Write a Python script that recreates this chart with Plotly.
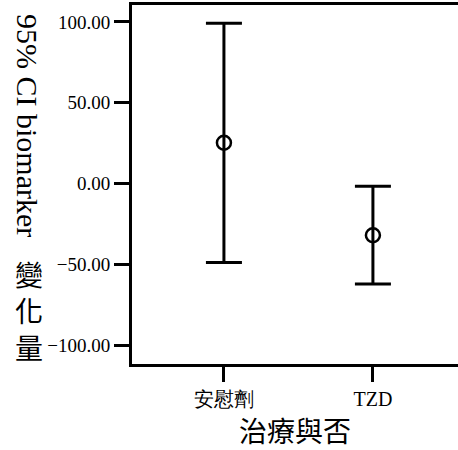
import plotly.graph_objects as go

# Data
categories = ["安慰劑", "TZD"]
means = [25.3, -31.9]
ci_lower = [-48.8, -62.0]
ci_upper = [99.2, -1.6]
y_ticks = [-100, -50, 0, 50, 100]

err_plus = [u - m for u, m in zip(ci_upper, means)]
err_minus = [m - l for m, l in zip(means, ci_lower)]

FONT = "Times New Roman, Liberation Serif, serif"

fig = go.Figure()
fig.add_trace(go.Scatter(
    x=categories,
    y=means,
    mode="markers",
    marker=dict(symbol="circle-open", size=14, color="black",
                line=dict(width=2.5, color="black")),
    error_y=dict(type="data", symmetric=False, array=err_plus,
                 arrayminus=err_minus, thickness=3, width=18, color="black"),
    showlegend=False,
    hoverinfo="skip",
))

W, H = 458, 450
L, R, T, B = 132, 0, 5, 86
plot_w = W - L - R
plot_h = H - T - B

def px_x(x):
    return (x - L) / plot_w

def px_y(y):
    return (H - B - y) / plot_h

fig.update_layout(
    width=W, height=H,
    margin=dict(l=L, r=R, t=T, b=B, pad=0),
    paper_bgcolor="white", plot_bgcolor="white",
    font=dict(family=FONT, color="black", size=19),
    xaxis=dict(
        type="category",
        range=[-0.617, 1.571],
        showline=True, linewidth=3, linecolor="black", mirror=True,
        ticks="outside", ticklen=15, tickwidth=3, tickcolor="black",
        showgrid=False, zeroline=False,
        tickfont=dict(family=FONT, size=20, color="black", weight="normal"),
    ),
    yaxis=dict(
        range=[-111.5, 110.5],
        tickvals=y_ticks,
        tickformat=".2f",
        showline=True, linewidth=3, linecolor="black", mirror=False,
        ticks="outside", ticklen=15, tickwidth=3, tickcolor="black",
        showgrid=False, zeroline=False,
        tickfont=dict(family=FONT, size=19, color="black", weight="normal"),
    ),
    annotations=[
        dict(text="95% CI biomarker", textangle=90,
             xref="paper", yref="paper", x=px_x(27), y=px_y(125),
             xanchor="center", yanchor="middle", showarrow=False,
             font=dict(family=FONT, size=30, color="black")),
        dict(text="變<br>化<br>量",
             xref="paper", yref="paper", x=px_x(29), y=px_y(310),
             xanchor="center", yanchor="middle", showarrow=False,
             font=dict(family="Noto Sans CJK TC", size=28, color="black")),
        dict(text="治療與否",
             xref="paper", yref="paper", x=0.5, y=px_y(430),
             xanchor="center", yanchor="middle", showarrow=False,
             font=dict(family="Noto Sans CJK TC", size=28, color="black")),
    ],
)

fig.write_html("out.html", config={"displayModeBar": False},
               post_script="document.body.style.margin='0';")
